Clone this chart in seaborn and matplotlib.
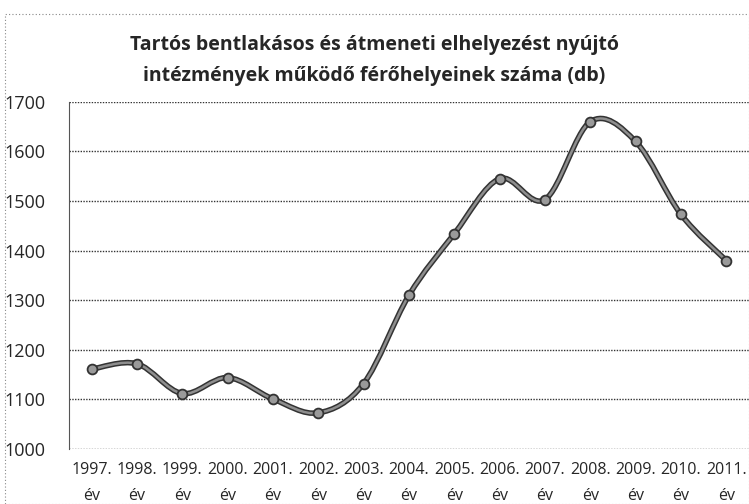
import numpy as np
import pandas as pd
import matplotlib
matplotlib.use("Agg")
import matplotlib.pyplot as plt
from matplotlib.path import Path
from matplotlib.patches import PathPatch, Rectangle
import seaborn as sns

# Data
years = ['1997.', '1998.', '1999.', '2000.', '2001.', '2002.', '2003.', '2004.',
         '2005.', '2006.', '2007.', '2008.', '2009.', '2010.', '2011.']
places = [1161, 1172, 1112, 1144, 1101, 1073, 1132, 1310,
          1434, 1545, 1503, 1660, 1620, 1473, 1380]
title = 'Tartós bentlakásos és átmeneti elhelyezést nyújtó\nintézmények működő férőhelyeinek száma (db)'

sns.set_style('white')
plt.rcParams['font.family'] = ['Open Sans', 'DejaVu Sans']

df = pd.DataFrame({'pos': np.arange(len(years)), 'value': places})
labels = [f'{y}\név' for y in years]

fig = plt.figure(figsize=(7.49, 5.04), dpi=100)
ax = fig.add_axes([0.092, 0.109, 0.908, 0.689])

# smoothed line (Excel style) built as cubic bezier through the data points
x = df['pos'].to_numpy(float)
y = df['value'].to_numpy(float)
verts = [(x[0], y[0])]
codes = [Path.MOVETO]
n = len(x)
for i in range(n - 1):
    p0 = (x[max(i - 1, 0)], y[max(i - 1, 0)])
    p1 = (x[i], y[i])
    p2 = (x[i + 1], y[i + 1])
    p3 = (x[min(i + 2, n - 1)], y[min(i + 2, n - 1)])
    c1 = (p1[0] + (p2[0] - p0[0]) / 6, p1[1] + (p2[1] - p0[1]) / 6)
    c2 = (p2[0] - (p3[0] - p1[0]) / 6, p2[1] - (p3[1] - p1[1]) / 6)
    verts += [c1, c2, p2]
    codes += [Path.CURVE4] * 3
path = Path(verts, codes)
ax.add_patch(PathPatch(path, facecolor='none', edgecolor='#333333', lw=4.0, zorder=3))
ax.add_patch(PathPatch(path, facecolor='none', edgecolor='#8e8e8e', lw=1.8, zorder=4))

sns.scatterplot(data=df, x='pos', y='value', ax=ax, s=50, color='#9a9a9a',
                edgecolor='#333333', linewidth=1.3, zorder=5, legend=False)

ax.set_xlim(-0.5, len(years) - 0.5)
ax.set_ylim(1000, 1700)
ax.set_yticks(range(1000, 1701, 100))
ax.set_xticks(df['pos'])
ax.set_xticklabels(labels, fontsize=11.5, linespacing=1.85)
ax.tick_params(axis='y', labelsize=13, pad=17, length=0)
ax.tick_params(axis='x', length=3, color='#777777', direction='out', pad=6)
ax.set_xlabel('')
ax.set_ylabel('')
ax.grid(axis='y', color='#333333', linestyle=(0, (1, 1)), lw=1.0)
for s in ['top', 'right', 'bottom']:
    ax.spines[s].set_visible(False)
ax.spines['left'].set_linestyle((0, (1, 1)))
ax.spines['left'].set_color('#555555')
ax.set_axisbelow(True)

fig.text(0.5, 0.88, title, ha='center', va='center', fontsize=14,
         fontweight='bold', linespacing=1.75)

# dotted chart border
fig.patches.append(Rectangle((0.007, 0.0), 0.993, 0.972, transform=fig.transFigure,
                             fill=False, edgecolor='#888888', lw=0.8,
                             linestyle=(0, (1, 2))))

fig.savefig('out.png', dpi=100)
